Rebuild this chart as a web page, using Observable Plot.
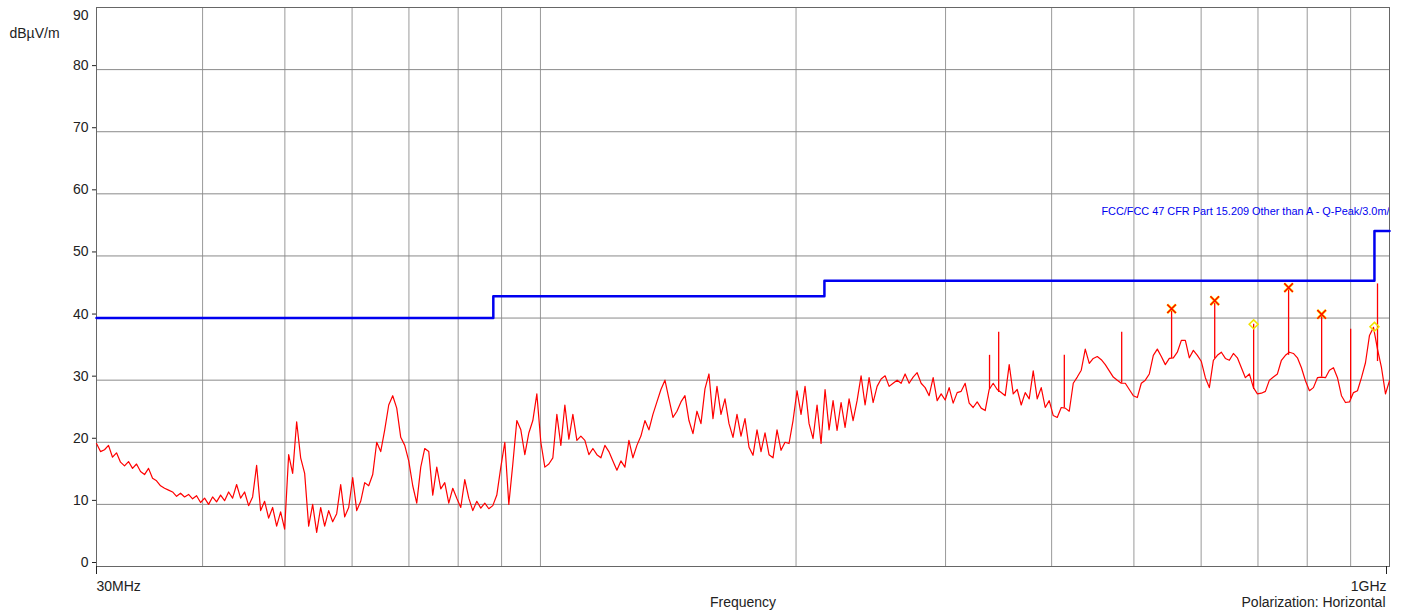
<!DOCTYPE html>
<html>
<head>
<meta charset="utf-8">
<script src="https://cdn.jsdelivr.net/npm/d3@7"></script>
<script src="https://cdn.jsdelivr.net/npm/@observablehq/plot@0.6"></script>
<style>
  html, body { margin: 0; padding: 0; background: #fff; }
  #chart svg { display: block; }
</style>
</head>
<body>
<div id="chart"></div>
<script>
// ---- data ----
const startMHz = 30;
const stopMHz = 1000;

// measured level (dBµV/m) of a logarithmic sweep from 30 MHz to 1 GHz
const sweepLevels = [
  19.8,18.5,18.8,19.5,17.6,18.3,16.8,16.2,16.9,15.8,16.5,15.3,14.8,15.8,14.2,13.8,13.0,12.6,12.3,12.0,
  11.3,11.8,11.2,11.6,10.9,11.4,10.3,11.0,10.0,11.2,10.4,11.5,10.6,12.0,11.0,13.2,11.0,12.0,9.8,11.2,
  16.3,9.0,10.5,7.8,9.5,6.5,8.8,6.0,18.0,15.0,23.3,17.5,15.0,6.5,10.0,5.5,9.5,6.5,9.0,7.2,
  8.5,13.2,8.0,9.5,14.3,9.0,10.5,13.5,13.0,14.8,20.0,18.5,22.0,26.0,27.5,25.5,20.8,19.5,17.0,13.0,
  10.2,16.0,19.0,18.5,11.5,16.0,12.5,13.5,10.2,12.6,11.0,9.5,14.0,11.0,9.0,10.5,9.4,10.2,9.3,9.8,
  11.5,16.0,20.0,10.0,16.5,23.5,22.0,18.0,21.5,23.5,27.8,20.0,16.0,16.5,17.5,24.5,19.5,26.0,20.5,24.5,
  20.3,21.0,20.3,18.0,19.0,18.0,17.5,19.5,18.5,17.0,15.5,17.0,16.0,20.3,17.5,19.5,21.0,23.5,22.0,24.5,
  26.5,28.5,30.0,27.0,24.0,25.0,26.5,27.5,23.5,21.4,25.0,23.0,28.6,31.0,23.8,29.0,24.5,27.0,23.0,20.8,
  24.5,21.0,23.8,19.2,17.9,22.0,18.5,21.5,18.0,17.5,22.0,18.7,20.0,19.8,23.5,28.3,24.5,29.0,23.0,20.6,
  26.0,19.8,28.5,22.0,26.7,21.9,26.4,22.4,27.0,23.5,26.7,30.7,26.0,30.4,26.4,29.0,30.2,30.7,29.0,29.5,
  30.0,29.5,31.0,29.5,30.5,31.2,29.5,28.8,27.5,30.4,26.7,27.8,26.8,28.8,26.3,28.0,28.2,29.5,26.3,25.6,
  26.5,25.5,25.1,28.5,29.5,28.5,28.0,27.5,32.5,27.8,28.5,26.0,28.0,27.0,31.5,27.0,28.8,25.6,26.7,24.3,
  24.0,25.6,25.5,25.0,29.5,30.5,31.6,35.0,32.7,33.5,33.8,33.3,32.5,31.5,30.5,30.0,29.5,29.5,28.5,27.5,
  27.2,29.5,30.0,31.0,34.0,35.0,33.8,32.5,33.5,33.6,34.5,36.4,36.4,33.6,34.8,34.0,33.0,30.4,28.8,33.2,
  34.0,34.5,33.5,33.2,34.3,33.6,32.0,30.4,31.0,28.8,27.8,27.9,28.2,30.0,30.5,31.0,33.2,34.0,34.5,34.3,
  33.6,32.0,29.9,28.3,28.8,30.4,30.5,30.4,31.6,32.0,30.4,27.5,26.4,26.5,28.0,28.3,30.4,32.8,37.2,38.5,
  35.0,32.0,27.8,29.9
];

// narrow spikes in the trace: frequency (MHz), floor and top level (dBµV/m)
const spikeFreqs  = [338, 346.5, 414, 483.7, 553.8, 622.5, 691.8, 760.6, 831.9, 900, 968];
const spikeFloors = [28.5, 28.0, 25.5, 29.5, 33.5, 33.5, 28.5, 34.0, 30.5, 27.0, 33.0];
const spikeTops   = [34.0, 37.7, 34.0, 37.7, 41.5, 42.8, 39.0, 44.9, 40.6, 38.2, 45.5];

// final-measurement markers
const peakFreqs   = [553.8, 622.5, 760.6, 831.9];
const peakLevels  = [41.5, 42.8, 44.9, 40.6];
const qpFreqs     = [691.8, 960];
const qpLevels    = [39.0, 38.6];

// FCC 15.209 limit (step after each edge)
const limitFreqs  = [30, 88, 216, 960, 1000];
const limitLevels = [40, 43.5, 46, 54, 54];
const limitName   = "FCC/FCC 47 CFR Part 15.209 Other than A - Q-Peak/3.0m/";

// axis ticks
const yTicks = [0, 10, 20, 30, 40, 50, 60, 70, 80];
const yTopTick = [90];
const xGridTicks = [40, 50, 60, 70, 80, 90, 100, 200, 300, 400, 500, 600, 700, 800, 900];
const xStartLabel = "30MHz";
const xEndLabel = "1GHz";

// ---- build tables ----
const sweep = sweepLevels.map((v, i) => ({
  f: startMHz * Math.pow(stopMHz / startMHz, i / (sweepLevels.length - 1)),
  v
}));
const spikes = spikeFreqs.map((f, i) => ({f, lo: spikeFloors[i], hi: spikeTops[i]}));
const peaks = peakFreqs.map((f, i) => ({f, v: peakLevels[i]}));
const qps = qpFreqs.map((f, i) => ({f, v: qpLevels[i]}));
const limit = limitFreqs.map((f, i) => ({f, v: limitLevels[i]}));

const red = "#ff0000";
const blue = "#0000f0";

const chart = Plot.plot({
  width: 1404,
  height: 614,
  marginLeft: 96,
  marginRight: 15,
  marginTop: 7,
  marginBottom: 48,
  style: {fontFamily: "'Liberation Sans', Arial, sans-serif", fontSize: "14px", background: "#fff", color: "#222"},
  x: {type: "log", domain: [startMHz, stopMHz]},
  y: {domain: [0, 90]},
  marks: [
    Plot.gridX({ticks: xGridTicks, stroke: "#9a9a9a", strokeOpacity: 1}),
    Plot.gridY({ticks: yTicks.filter(d => d > 0), stroke: "#8a8a8a", strokeOpacity: 1}),
    Plot.frame({stroke: "#666"}),
    Plot.axisY({ticks: yTicks, tickSize: 4, tickPadding: 4, dy: -4, label: null, fontSize: 14}),
    Plot.axisY({ticks: yTopTick, tickSize: 0, tickPadding: 8, dy: 8, label: null, fontSize: 14}),
    Plot.axisX({ticks: [startMHz], tickFormat: () => xStartLabel, tickSize: 8, tickPadding: 7, textAnchor: "start", dx: 0, label: null, fontSize: 14}),
    Plot.axisX({ticks: [stopMHz], tickFormat: () => xEndLabel, tickSize: 8, tickPadding: 7, textAnchor: "end", dx: -3, label: null, fontSize: 14}),
    Plot.line(limit, {x: "f", y: "v", curve: "step-after", stroke: blue, strokeWidth: 2.5}),
    Plot.text([limitName], {x: stopMHz, y: limitLevels[limitLevels.length - 1], dy: -20, text: d => d, textAnchor: "end", fill: blue, fontSize: 10.9, clip: "frame"}),
    Plot.line(sweep, {x: "f", y: "v", stroke: red, strokeWidth: 1.2}),
    Plot.ruleX(spikes, {x: "f", y1: "lo", y2: "hi", stroke: red, strokeWidth: 1.3}),
    Plot.dot(peaks, {x: "f", y: "v", symbol: "times", r: 4, stroke: "#ffe600", strokeWidth: 2.6}),
    Plot.dot(peaks, {x: "f", y: "v", symbol: "times", r: 4, stroke: red, strokeWidth: 1.4}),
    Plot.dot(qps, {x: "f", y: "v", symbol: "diamond2", r: 4, stroke: "#f2e200", strokeWidth: 1.6}),
    Plot.text(["dBµV/m"], {frameAnchor: "top-left", text: d => d, dx: -87, dy: 26, lineAnchor: "middle", textAnchor: "start", fontSize: 14, fill: "#222"}),
    Plot.text(["Frequency"], {frameAnchor: "bottom", text: d => d, dy: 36, lineAnchor: "middle", fontSize: 14, fill: "#222"}),
    Plot.text(["Polarization: Horizontal"], {frameAnchor: "bottom-right", text: d => d, dx: -4, dy: 36, lineAnchor: "middle", textAnchor: "end", fontSize: 14, fill: "#222"})
  ]
});
document.getElementById("chart").appendChild(chart);
</script>
</body>
</html>
